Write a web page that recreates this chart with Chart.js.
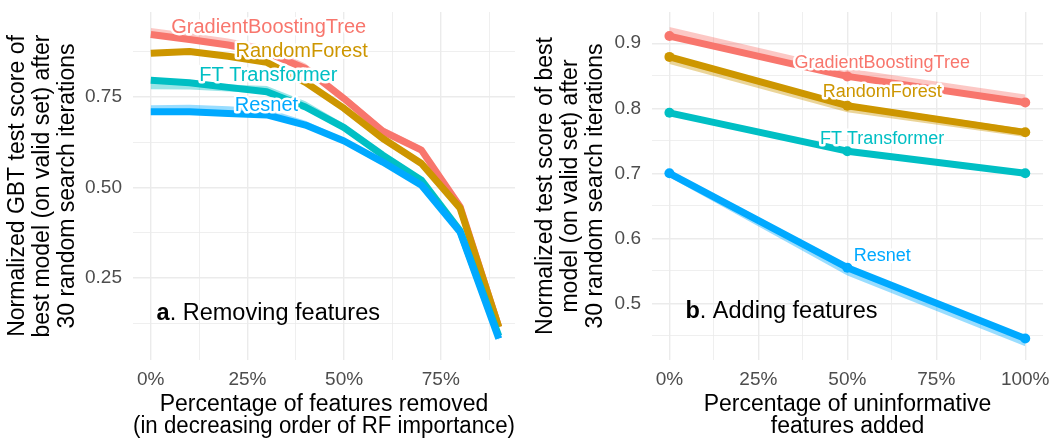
<!DOCTYPE html>
<html>
<head>
<meta charset="utf-8">
<script src="https://cdn.jsdelivr.net/npm/chart.js@4.4.1/dist/chart.umd.min.js"></script>
<style>
html, body { margin: 0; padding: 0; background: #fff; }
#wrap { position: relative; width: 1050px; height: 440px; }
#painel-a { position: absolute; left: 0; top: 0; }
#painel-b { position: absolute; left: 528px; top: 0; }
</style>
</head>
<body>
<div id="wrap">
    <canvas id="painel-a" width="528" height="440"></canvas>
    <canvas id="painel-b" width="522" height="440"></canvas>
</div>
<script>
const modelos = ['GradientBoostingTree', 'RandomForest', 'FT Transformer', 'Resnet'];
const cores = ['#F8766D', '#CD9600', '#00BFC4', '#00A9FF'];

// painel a: removendo features
const pctRemovido = [0, 10, 20, 30, 40, 50, 60, 70, 80, 90];
const gbtRemovido = [0.922, 0.908, 0.893, 0.872, 0.828, 0.745, 0.655, 0.603, 0.447, 0.115];
const rfRemovido = [0.870, 0.875, 0.862, 0.845, 0.790, 0.718, 0.635, 0.566, 0.443, 0.115];
const ftRemovido = [0.796, 0.789, 0.776, 0.764, 0.722, 0.665, 0.589, 0.520, 0.380, 0.090];
const resnetRemovido = [0.709, 0.709, 0.704, 0.700, 0.672, 0.628, 0.570, 0.506, 0.377, 0.083];
// faixas (superior / inferior)
const gbtRemovidoSup = [0.940, 0.926, 0.911, 0.890, 0.842, 0.757, 0.667, 0.614, 0.452, 0.118];
const gbtRemovidoInf = [0.918, 0.904, 0.889, 0.868, 0.824, 0.741, 0.651, 0.599, 0.442, 0.111];
const rfRemovidoSup = [0.874, 0.879, 0.866, 0.849, 0.794, 0.722, 0.639, 0.570, 0.447, 0.118];
const rfRemovidoInf = [0.864, 0.869, 0.856, 0.839, 0.784, 0.712, 0.629, 0.560, 0.438, 0.110];
const ftRemovidoSup = [0.800, 0.794, 0.784, 0.780, 0.738, 0.676, 0.596, 0.525, 0.384, 0.094];
const ftRemovidoInf = [0.771, 0.770, 0.765, 0.759, 0.717, 0.660, 0.584, 0.514, 0.374, 0.084];
const resnetRemovidoSup = [0.727, 0.728, 0.724, 0.718, 0.684, 0.636, 0.576, 0.511, 0.381, 0.088];
const resnetRemovidoInf = [0.704, 0.704, 0.699, 0.695, 0.667, 0.622, 0.563, 0.498, 0.370, 0.078];

// painel b: adicionando features
const pctAdicionado = [0, 50, 100];
const gbtAdicionado = [0.911, 0.849, 0.809];
const rfAdicionado = [0.879, 0.804, 0.763];
const ftAdicionado = [0.793, 0.734, 0.700];
const resnetAdicionado = [0.700, 0.555, 0.446];
const gbtAdicionadoSup = [0.925, 0.861, 0.821];
const gbtAdicionadoInf = [0.907, 0.846, 0.805];
const rfAdicionadoSup = [0.883, 0.808, 0.768];
const rfAdicionadoInf = [0.868, 0.794, 0.756];
const ftAdicionadoSup = [0.796, 0.737, 0.703];
const ftAdicionadoInf = [0.790, 0.731, 0.697];
const resnetAdicionadoSup = [0.703, 0.559, 0.449];
const resnetAdicionadoInf = [0.694, 0.543, 0.434];

// ticks
const ticksXRemovido = [0, 25, 50, 75];
const ticksXRemovidoMenor = [12.5, 37.5, 62.5, 87.5];
const ticksYRemovido = [0.25, 0.5, 0.75];
const ticksYRemovidoMenor = [0.125, 0.375, 0.625, 0.875];
const ticksXAdicionado = [0, 25, 50, 75, 100];
const ticksXAdicionadoMenor = [12.5, 37.5, 62.5, 87.5];
const ticksYAdicionado = [0.5, 0.6, 0.7, 0.8, 0.9];
const ticksYAdicionadoMenor = [0.45, 0.55, 0.65, 0.75, 0.85];

const FONTE = '"Liberation Sans", Arial, Helvetica, sans-serif';

function pontos(xs, ys) {
    return xs.map((x, i) => ({ x: x, y: ys[i] }));
}

function comAlpha(hex, a) {
    const n = parseInt(hex.slice(1), 16);
    return `rgba(${(n >> 16) & 255}, ${(n >> 8) & 255}, ${n & 255}, ${a})`;
}

// plugin pra escrever rótulos das séries e o título do painel
const rotulosPlugin = {
    id: 'rotulos',
    afterDatasetsDraw(chart, args, opts) {
        const ctx = chart.ctx;
        const sx = chart.scales.x, sy = chart.scales.y;
        ctx.save();
        ctx.textAlign = 'center';
        ctx.textBaseline = 'middle';
        ctx.lineJoin = 'round';
        opts.series.forEach((r, i) => {
            const px = sx.getPixelForValue(r.x);
            const py = sy.getPixelForValue(r.y);
            ctx.font = `${opts.tamanho}px ${FONTE}`;
            ctx.strokeStyle = '#ffffff';
            ctx.lineWidth = 5;
            ctx.strokeText(modelos[i], px, py);
            ctx.fillStyle = cores[i];
            ctx.fillText(modelos[i], px, py);
        });
        // "a. Removing features"
        const p = opts.painel;
        let x = sx.getPixelForValue(p.x);
        const y = sy.getPixelForValue(p.y);
        ctx.textAlign = 'left';
        ctx.textBaseline = 'alphabetic';
        ctx.fillStyle = '#000';
        ctx.font = `bold 23.5px ${FONTE}`;
        ctx.fillText(p.letra, x, y);
        x += ctx.measureText(p.letra).width;
        ctx.font = `23.5px ${FONTE}`;
        ctx.fillText(p.texto, x, y);
        ctx.restore();
    }
};

function montarGrafico(id, cfg) {
    const datasets = [];
    cfg.series.forEach((s, i) => {
        datasets.push({
            data: pontos(cfg.xs, s.sup),
            borderWidth: 0, pointRadius: 0, fill: false,
            order: 20 + i
        });
        datasets.push({
            data: pontos(cfg.xs, s.inf),
            borderWidth: 0, pointRadius: 0,
            fill: '-1',
            backgroundColor: comAlpha(cores[i], 0.4),
            order: 20 + i
        });
    });
    cfg.series.forEach((s, i) => {
        datasets.push({
            data: pontos(cfg.xs, s.val),
            borderColor: cores[i],
            backgroundColor: cores[i],
            borderWidth: 7,
            borderJoinStyle: 'round',
            tension: 0,
            pointRadius: cfg.raioPonto,
            pointBorderWidth: 0,
            fill: false,
            order: 10 - i
        });
    });

    const grade = (lista) => ({
        color: '#EBEBEB',
        lineWidth: (c) => lista.includes(c.tick.value) ? 1.4 : 0.8,
        drawTicks: false
    });

    new Chart(document.getElementById(id), {
        type: 'line',
        data: { datasets: datasets },
        plugins: [rotulosPlugin],
        options: {
            responsive: false,
            animation: false,
            layout: { padding: { top: 12, right: cfg.padDir, bottom: 0, left: 0 } },
            plugins: {
                legend: { display: false },
                tooltip: { enabled: false },
                rotulos: { series: cfg.rotulos, painel: cfg.painel, tamanho: cfg.tamRotulo }
            },
            scales: {
                x: {
                    type: 'linear',
                    min: cfg.xMin, max: cfg.xMax,
                    afterBuildTicks: (sc) => {
                        sc.ticks = cfg.ticksX.concat(cfg.ticksXMenor).sort((a, b) => a - b).map(v => ({ value: v }));
                    },
                    afterFit: (sc) => { sc.height = 80; },
                    grid: grade(cfg.ticksX),
                    border: { display: false },
                    ticks: {
                        autoSkip: false, maxRotation: 0, padding: 0,
                        color: '#4D4D4D',
                        // lineHeight grande empurra o rótulo pra baixo sem padding extra
                        font: { family: FONTE, size: 19, lineHeight: '40px' },
                        callback: (v) => cfg.ticksX.includes(v) ? v + '%' : ''
                    },
                    title: {
                        display: true,
                        text: cfg.tituloX,
                        color: '#000',
                        font: { family: FONTE, size: 23, lineHeight: '22px' },
                        padding: { top: 0, bottom: 2 }
                    }
                },
                y: {
                    type: 'linear',
                    min: cfg.yMin, max: cfg.yMax,
                    afterBuildTicks: (sc) => {
                        sc.ticks = cfg.ticksY.concat(cfg.ticksYMenor).sort((a, b) => a - b).map(v => ({ value: v }));
                    },
                    afterFit: (sc) => { sc.width = cfg.larguraY; },
                    grid: grade(cfg.ticksY),
                    border: { display: false },
                    ticks: {
                        autoSkip: false, padding: 11,
                        color: '#4D4D4D',
                        font: { family: FONTE, size: 19, lineHeight: '1px' },
                        callback: (v) => cfg.ticksY.includes(v) ? v.toFixed(cfg.casas) : ''
                    },
                    title: {
                        display: true,
                        text: cfg.tituloY,
                        color: '#000',
                        font: { family: FONTE, size: 23, lineHeight: '25px' },
                        padding: { top: 5, bottom: 0 }
                    }
                }
            }
        }
    });
}

document.addEventListener('DOMContentLoaded', () => {
    montarGrafico('painel-a', {
        xs: pctRemovido,
        series: [
            { val: gbtRemovido, sup: gbtRemovidoSup, inf: gbtRemovidoInf },
            { val: rfRemovido, sup: rfRemovidoSup, inf: rfRemovidoInf },
            { val: ftRemovido, sup: ftRemovidoSup, inf: ftRemovidoInf },
            { val: resnetRemovido, sup: resnetRemovidoSup, inf: resnetRemovidoInf }
        ],
        raioPonto: 0,
        xMin: -4.6, xMax: 94.2, yMin: 0.024, yMax: 0.984,
        ticksX: ticksXRemovido, ticksXMenor: ticksXRemovidoMenor,
        ticksY: ticksYRemovido, ticksYMenor: ticksYRemovidoMenor,
        casas: 2,
        larguraY: 133, padDir: 13,
        tituloX: ['Percentage of features removed', '(in decreasing order of RF importance)'],
        tituloY: ['Normalized GBT test score of', 'best model (on valid set) after', '30 random search iterations'],
        tamRotulo: 20,
        rotulos: [
            { x: 30.5, y: 0.940 },
            { x: 39.0, y: 0.876 },
            { x: 30.4, y: 0.810 },
            { x: 29.9, y: 0.725 }
        ],
        painel: { x: 1.5, y: 0.134, letra: 'a', texto: '. Removing features' }
    });

    montarGrafico('painel-b', {
        xs: pctAdicionado,
        series: [
            { val: gbtAdicionado, sup: gbtAdicionadoSup, inf: gbtAdicionadoInf },
            { val: rfAdicionado, sup: rfAdicionadoSup, inf: rfAdicionadoInf },
            { val: ftAdicionado, sup: ftAdicionadoSup, inf: ftAdicionadoInf },
            { val: resnetAdicionado, sup: resnetAdicionadoSup, inf: resnetAdicionadoInf }
        ],
        raioPonto: 5,
        xMin: -4.9, xMax: 105, yMin: 0.413, yMax: 0.948,
        ticksX: ticksXAdicionado, ticksXMenor: ticksXAdicionadoMenor,
        ticksY: ticksYAdicionado, ticksYMenor: ticksYAdicionadoMenor,
        casas: 1,
        larguraY: 124, padDir: 7,
        tituloX: ['Percentage of uninformative', 'features added'],
        tituloY: ['Normalized test score of best', 'model (on valid set) after', '30 random search iterations'],
        tamRotulo: 18,
        rotulos: [
            { x: 59.8, y: 0.870 },
            { x: 59.8, y: 0.825 },
            { x: 59.8, y: 0.753 },
            { x: 59.8, y: 0.573 }
        ],
        painel: { x: 4.5, y: 0.477, letra: 'b', texto: '. Adding features' }
    });
});
</script>
</body>
</html>
